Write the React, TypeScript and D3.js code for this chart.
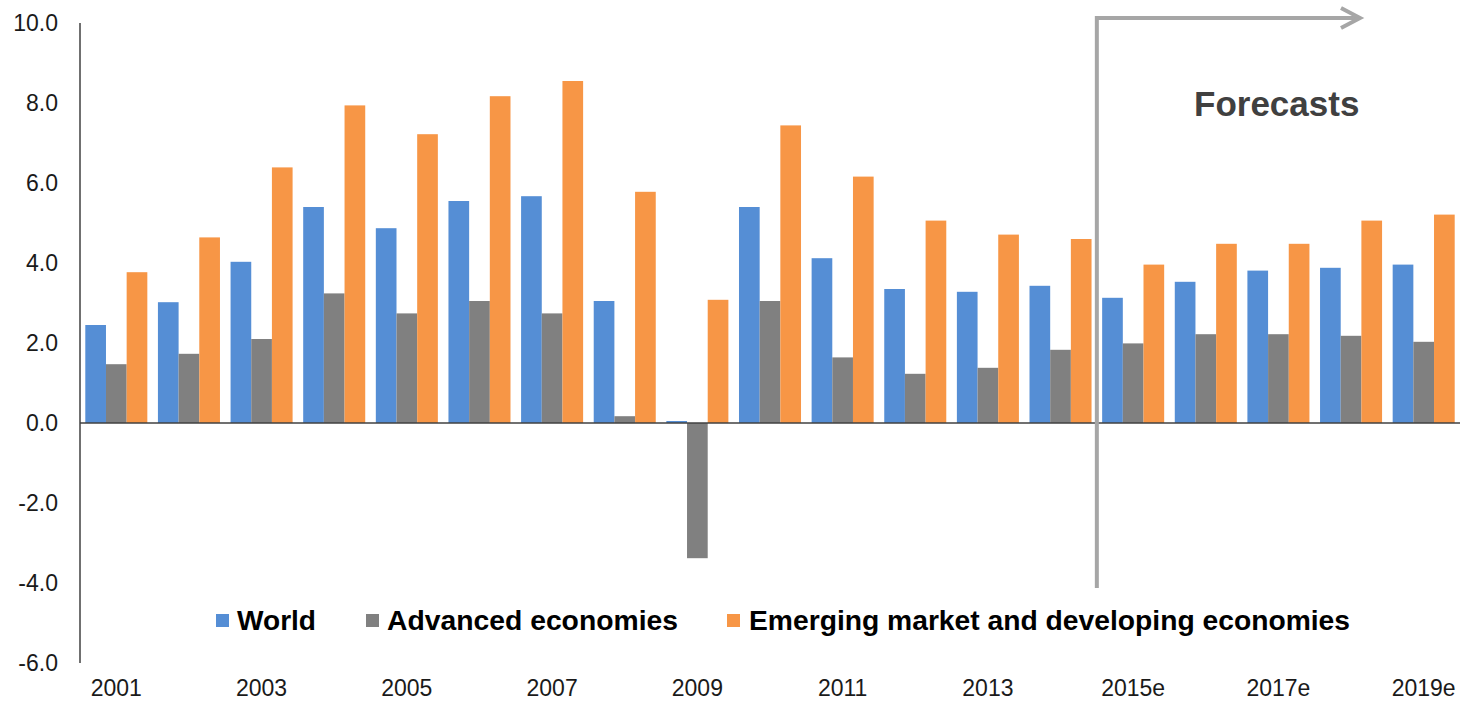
import React from "react";
import * as d3 from "d3";

const years = ["2001","2002","2003","2004","2005","2006","2007","2008","2009","2010","2011","2012","2013","2014","2015e","2016e","2017e","2018e","2019e"];
const seriesNames = ["World", "Advanced economies", "Emerging market and developing economies"];
const world = [2.45, 3.02, 4.03, 5.4, 4.87, 5.55, 5.67, 3.05, 0.05, 5.4, 4.12, 3.35, 3.28, 3.43, 3.13, 3.53, 3.81, 3.88, 3.96];
const advanced = [1.47, 1.73, 2.1, 3.24, 2.74, 3.05, 2.74, 0.17, -3.38, 3.05, 1.64, 1.23, 1.38, 1.83, 1.99, 2.22, 2.22, 2.18, 2.03];
const emerging = [3.77, 4.64, 6.39, 7.94, 7.22, 8.17, 8.55, 5.78, 3.08, 7.44, 6.16, 5.06, 4.71, 4.6, 3.96, 4.48, 4.48, 5.06, 5.21];
const yTicks = [-6, -4, -2, 0, 2, 4, 6, 8, 10];
const shownLabels = ["2001","2003","2005","2007","2009","2011","2013","2015e","2017e","2019e"];
const colors = ["#558ED5", "#808080", "#F79646"];

export default function App() {
  const W = 1464, H = 701;
  const x = d3.scaleBand<string>().domain(years).range([80, 1460]).paddingInner(0.146).paddingOuter(0.073);
  const x1 = d3.scaleBand<string>().domain(seriesNames).range([0, x.bandwidth()]);
  const y = d3.scaleLinear().domain([-6, 10]).range([663, 23]);
  const fmt = d3.formatLocale({ decimal: ".", thousands: ",", grouping: [3], currency: ["", ""], minus: "-" }).format(".1f");
  const data = [world, advanced, emerging];
  const forecastX = (x("2015e") as number) - (x.step() - x.bandwidth()) / 2;
  const arrowY = 18;
  const arrowEnd = 1360;

  const legendItems = [
    { name: seriesNames[0], sx: 216, tx: 237, len: 79 },
    { name: seriesNames[1], sx: 366, tx: 387, len: 291 },
    { name: seriesNames[2], sx: 727, tx: 749, len: 601 },
  ];

  return (
    <svg width={W} height={H} style={{ position: "absolute", left: 0, top: 0, background: "#fff" }}
      fontFamily="Arial, 'Liberation Sans', sans-serif">
      {data.map((vals, si) => (
        <g key={si} fill={colors[si]}>
          {vals.map((v, i) => {
            const bx = (x(years[i]) as number) + (x1(seriesNames[si]) as number);
            const y0 = y(0), yv = y(v);
            return <rect key={i} x={bx} y={Math.min(y0, yv)} width={x1.bandwidth()} height={Math.abs(yv - y0)} />;
          })}
        </g>
      ))}
      <line x1={80} x2={80} y1={y(10)} y2={y(-6)} stroke="#404040" strokeWidth={1.5} />
      <line x1={80} x2={1460} y1={y(0)} y2={y(0)} stroke="#404040" strokeWidth={1.5} />
      {yTicks.map(t => (
        <text key={t} x={58} y={y(t)} textAnchor="end" dominantBaseline="central" fontSize={23} fill="#1a1a1a">{fmt(t)}</text>
      ))}
      {shownLabels.map(l => (
        <text key={l} x={(x(l) as number) + x.bandwidth() / 2} y={688} textAnchor="middle" dominantBaseline="central" fontSize={23} fill="#1a1a1a">{l}</text>
      ))}
      <path d={`M${forecastX},588 L${forecastX},${arrowY} L${arrowEnd},${arrowY}`} fill="none" stroke="#a6a6a6" strokeWidth={4} strokeLinejoin="miter" />
      <path d={`M${arrowEnd - 19},${arrowY - 10} L${arrowEnd},${arrowY} L${arrowEnd - 19},${arrowY + 10}`} fill="none" stroke="#a6a6a6" strokeWidth={4} strokeLinejoin="miter" />
      <text x={1194} y={116} fontSize={35} fontWeight="bold" fill="#404040">Forecasts</text>
      {legendItems.map((it, i) => (
        <g key={i}>
          <rect x={it.sx} y={614} width={13} height={13} fill={colors[i]} />
          <text x={it.tx} y={630} fontSize={28} fontWeight="bold" fill="#000" textLength={it.len} lengthAdjust="spacingAndGlyphs">{it.name}</text>
        </g>
      ))}
    </svg>
  );
}
